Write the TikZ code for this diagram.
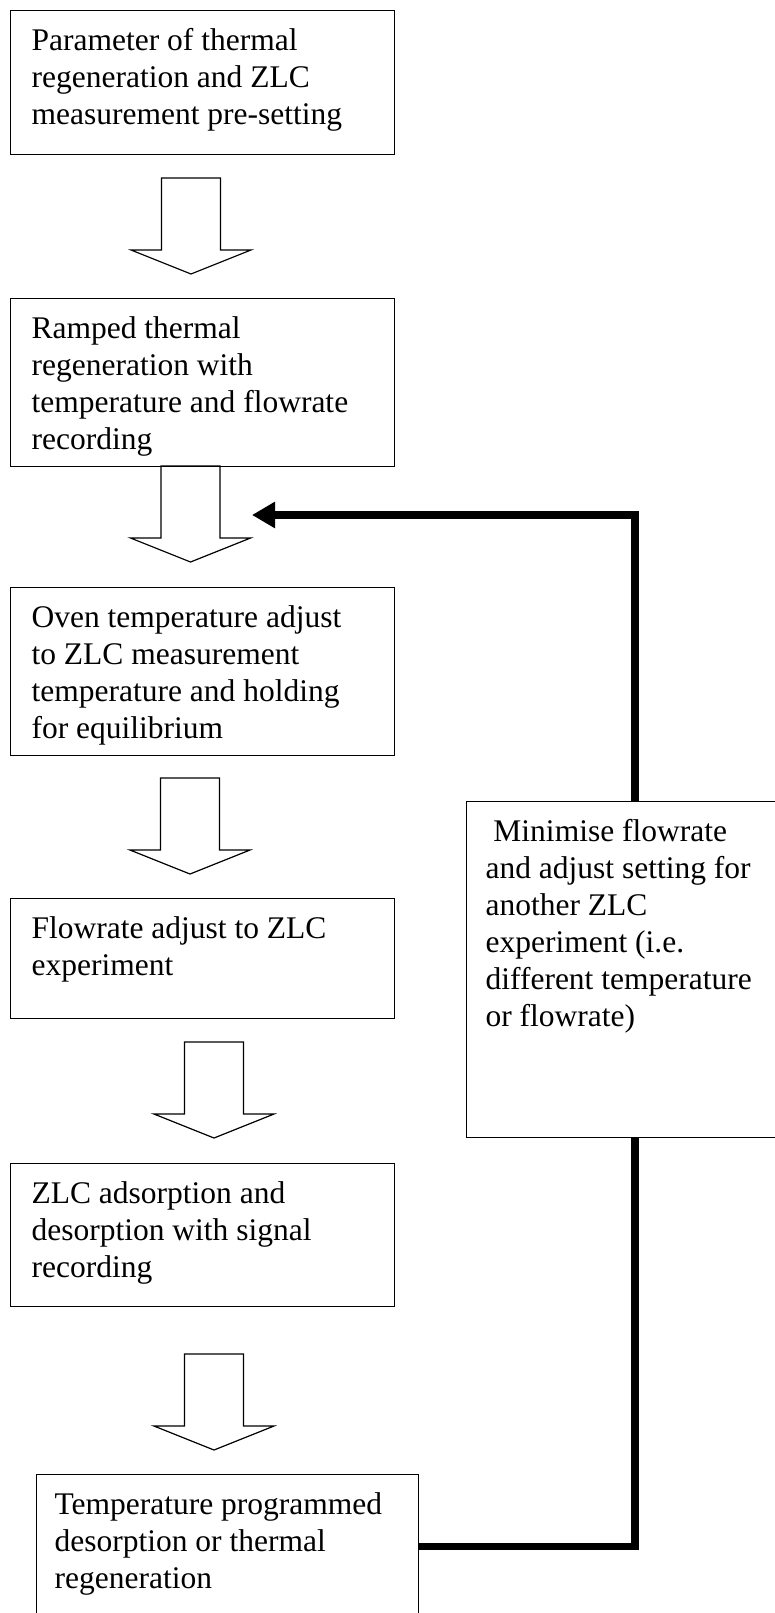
\documentclass[tikz,border=0pt]{standalone}
\usepackage{fontspec}
\setmainfont{Liberation Serif}
\usetikzlibrary{arrows.meta}

\tikzset{
  stepbox/.style={draw, line width=1.2pt, fill=white, anchor=north west,
    inner xsep=21pt, inner ysep=18pt, font=\fontsize{31.5}{37}\selectfont},
  hollowarrow/.style={draw, line width=1.2pt, line join=miter},
  loopline/.style={line width=7.5pt, -{Triangle[length=23pt,width=25pt]}},
}
% text of a box: height, width, lines
\newcommand{\steptext}[3]{\parbox[c][#1][t]{#2}{\raggedright\rule{0pt}{22pt}#3}}
% hollow down arrow: centre x, top y
\newcommand{\downblock}[2]{%
  \draw[hollowarrow] (#1-29.5,#2) -- (#1-29.5,#2+72) -- (#1-60,#2+72)
    -- (#1,#2+96) -- (#1+60,#2+72) -- (#1+29.5,#2+72) -- (#1+29.5,#2) -- cycle;}

\begin{document}
\begin{tikzpicture}[x=1pt, y=-1pt]
    \useasboundingbox (0,0) rectangle (775,1613);
    %steps
    \node[stepbox] (b1) at (10,10) {\steptext{108pt}{342pt}{Parameter of thermal\\
      regeneration and ZLC\\ measurement pre-setting}};
    \node[stepbox] (b2) at (10,298) {\steptext{132pt}{342pt}{Ramped thermal\\
      regeneration with\\ temperature and flowrate\\ recording}};
    \node[stepbox] (b3) at (10,587) {\steptext{132pt}{342pt}{Oven temperature adjust\\
      to ZLC measurement\\ temperature and holding\\ for equilibrium}};
    \node[stepbox] (b4) at (10,898) {\steptext{84pt}{342pt}{Flowrate adjust to ZLC\\
      experiment}};
    \node[stepbox] (b5) at (10,1163) {\steptext{107pt}{342pt}{ZLC adsorption and\\
      desorption with signal\\ recording}};
    \node[stepbox, inner xsep=18pt] (b6) at (36,1474) {\steptext{108pt}{346pt}{Temperature programmed\\
      desorption or thermal\\ regeneration}};
    %block arrows
    \downblock{191}{178}
    \downblock{190.5}{466}
    \downblock{190}{778}
    \downblock{214}{1042}
    \downblock{214}{1354}
    %loop back
    \coordinate (turn) at (635,515);
    \coordinate (back) at (252,515);
    \draw[loopline] (b6.east) -| (turn) -- (back);
    \node[stepbox, inner xsep=19pt] (redo) at (466,801) {\steptext{300pt}{290pt}{\ Minimise flowrate\\
      and adjust setting for\\ another ZLC\\ experiment (i.e.\\ different temperature\\ or flowrate)}};
\end{tikzpicture}
\end{document}
